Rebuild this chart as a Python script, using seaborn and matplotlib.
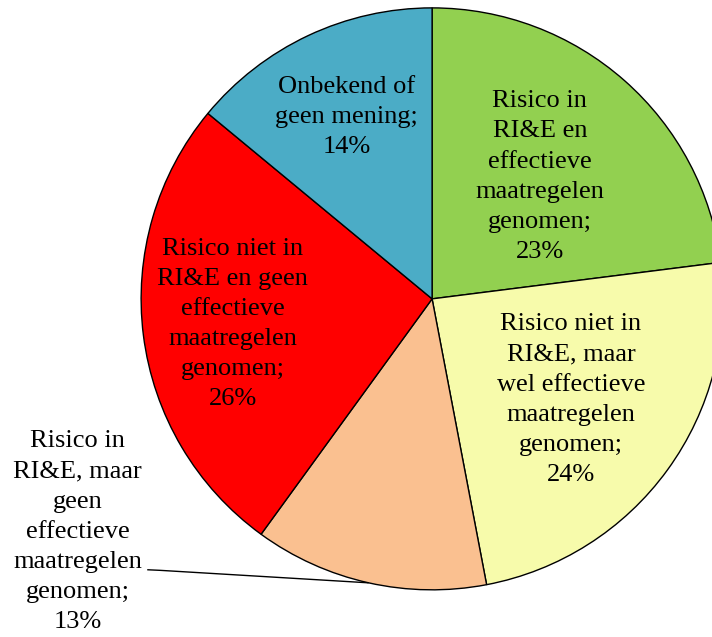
import numpy as np
import matplotlib
matplotlib.use("Agg")
import matplotlib.pyplot as plt
import seaborn as sns

# data
labels = [
    "Risico in\nRI&E en\neffectieve\nmaatregelen\ngenomen;\n23%",
    "Risico niet in\nRI&E, maar\nwel effectieve\nmaatregelen\ngenomen;\n24%",
    "Risico in\nRI&E, maar\ngeen\neffectieve\nmaatregelen\ngenomen;\n13%",
    "Risico niet in\nRI&E en geen\neffectieve\nmaatregelen\ngenomen;\n26%",
    "Onbekend of\ngeen mening;\n14%",
]
values = [23, 24, 13, 26, 14]
colors = ["#92D050", "#F7FBAB", "#FAC090", "#FF0000", "#4BACC6"]

# label placement: fraction of radius along mid-angle
label_r = [0.56, 0.59, None, 0.69, 0.69]

sns.set_theme(style="white")
plt.rcParams['font.family'] = ['Liberation Serif', 'DejaVu Serif']

fig = plt.figure(figsize=(7.12, 6.37), dpi=100)
ax = fig.add_axes([0, 0, 1, 1])

wedges, _ = ax.pie(values, colors=colors, startangle=90, counterclock=False,
                   wedgeprops=dict(edgecolor="black", linewidth=1.0))

ax.set_xlim(-1.485, 0.962)
ax.set_ylim(-1.162, 1.027)
ax.set_aspect("equal")
ax.axis("off")

txt = dict(ha="center", va="center", fontsize=19, linespacing=1.48, color="black")

for w, lab, r in zip(wedges, labels, label_r):
    mid = np.deg2rad((w.theta1 + w.theta2) / 2)
    if r is None:
        # outside label with leader line
        ex, ey = np.cos(mid), np.sin(mid)
        ax.plot([-0.979, -0.935, ex], [-0.931, -0.933, ey], color="black", lw=1.0,
                solid_capstyle="butt")
        ax.text(-1.219, -0.801, lab, **txt)
    else:
        ax.text(r * np.cos(mid), r * np.sin(mid), lab, **txt)

fig.savefig("out.png", dpi=100)
